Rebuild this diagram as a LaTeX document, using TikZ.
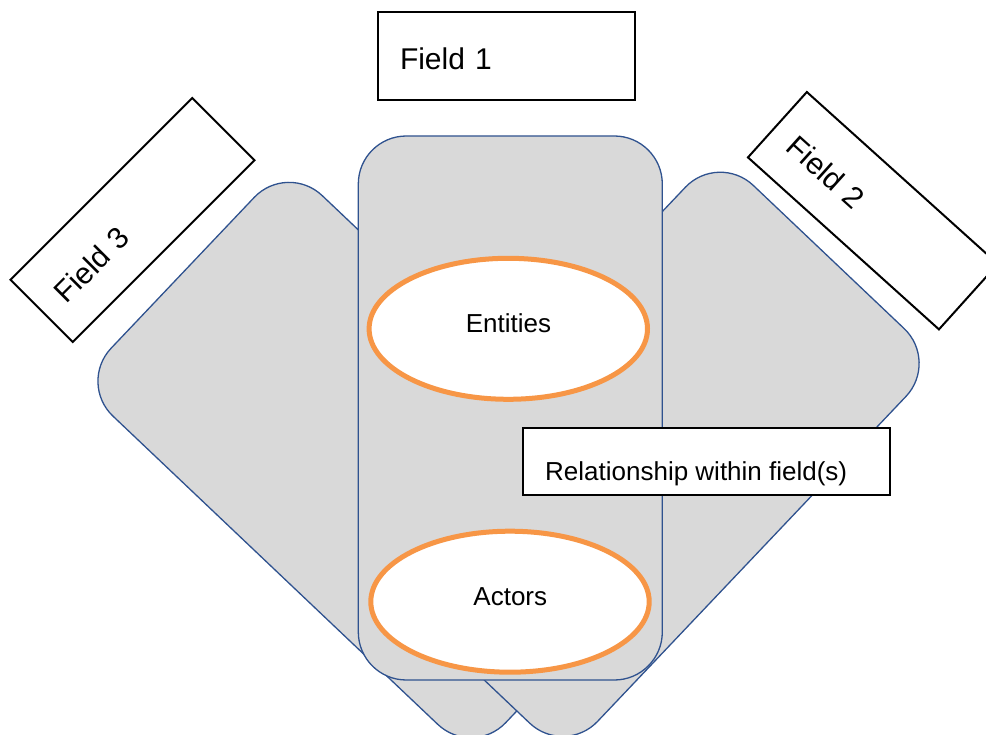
\documentclass[tikz,border=0pt]{standalone}
\usepackage{fontspec}
\setmainfont{Liberation Sans}
\usetikzlibrary{shapes.geometric}
\definecolor{cardfill}{HTML}{D9D9D9}
\definecolor{cardline}{HTML}{2F528F}
\definecolor{ovalline}{HTML}{F79646}
\tikzset{
  card/.style={draw=cardline, line width=1.3pt, fill=cardfill, rounded corners=48pt,
    minimum width=304pt, minimum height=544pt, inner sep=0pt},
  fieldbox/.style={draw=black, line width=2pt, fill=white, minimum height=88pt,
    text width=213pt, inner xsep=22pt, inner ysep=0pt, align=left,
    text height=27pt, text depth=0pt,
    font=\fontsize{30}{36}\selectfont},
  oval/.style={ellipse, draw=ovalline, line width=5pt, fill=white,
    minimum width=278.4pt, minimum height=141pt, inner sep=0pt},
  labeltext/.style={inner sep=0pt, font=\fontsize{26}{31}\selectfont},
  relbox/.style={draw=black, line width=2pt, fill=white,
    minimum width=367pt, minimum height=67pt, inner sep=0pt}
}
\begin{document}
\begin{tikzpicture}[x=1pt, y=-1pt]
\useasboundingbox (0,0) rectangle (986,735);
\clip (0,0) rectangle (986,735);

% the three field cards, side ones tilted
\node[card, rotate=46.5] (card3) at (380,460) {};
\node[card, rotate=-43.5] (card2) at (641.5,454.3) {};
\node[card] (card1) at (510.3,408) {};

% ovals on the middle card
\node[oval] (entities) at (508.3,328.8) {};
\node[labeltext, anchor=base] (entitiesText) at (508.5,333) {Entities};
\node[oval] (actors) at (510,601.7) {};
\node[labeltext, anchor=base] (actorsText) at (510.3,605) {Actors};

% relationship label
\node[relbox] (relation) at (706.7,461.7) {};
\node[labeltext, anchor=base west] (relationText) at (545,480) {Relationship within field(s)};

% field headings
\node[fieldbox] (field1) at (506.5,56) {Field 1};
\node[fieldbox, rotate=-42] (field2) at (872.9,210.7) {Field 2};
\node[fieldbox, rotate=45] (field3) at (132.5,220) {Field 3};
\end{tikzpicture}
\end{document}
